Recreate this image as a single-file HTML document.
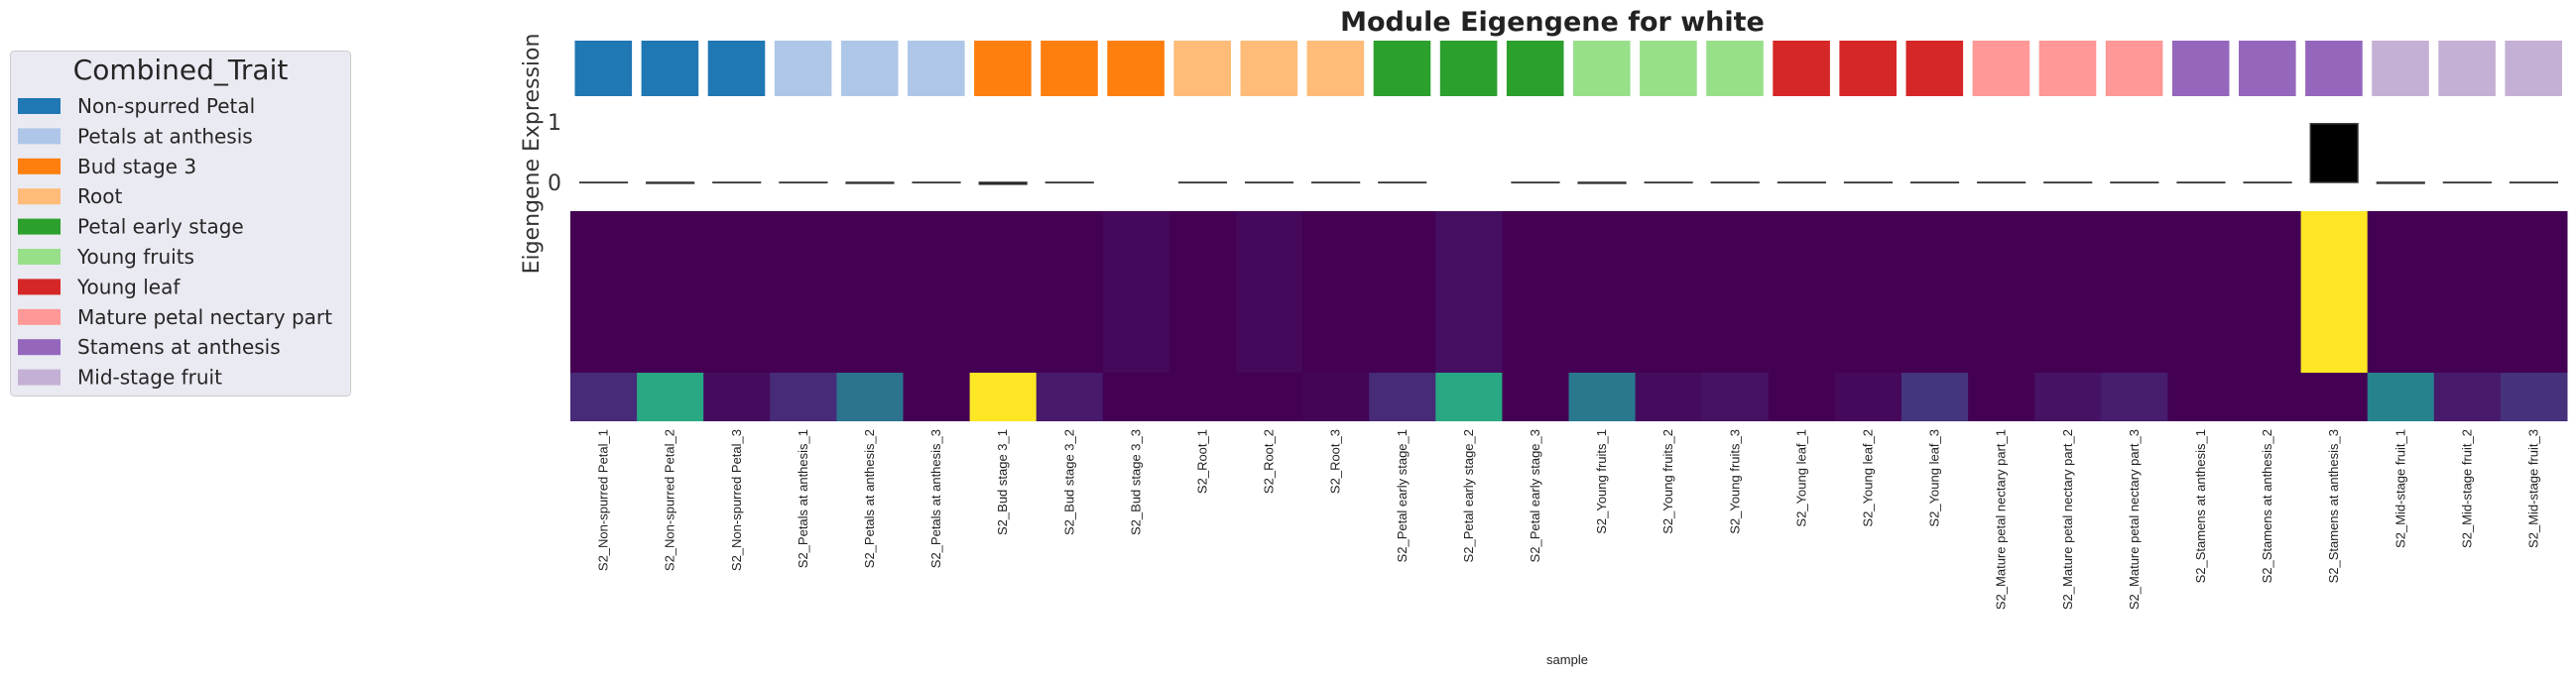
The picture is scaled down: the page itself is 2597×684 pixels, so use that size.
<!DOCTYPE html>
<html><head><meta charset="utf-8"><style>
body{margin:0;background:#fff;}
svg{display:block;font-family:"Liberation Sans","DejaVu Sans",sans-serif;}
</style></head><body>
<svg id="chart" width="2597" height="684" viewBox="0 0 2597 684">
<g id="legend"></g>
<text x="1565" y="31" font-size="27" font-weight="bold" text-anchor="middle" fill="#222" font-family="DejaVu Sans, sans-serif">Module Eigengene for white</text>
<text transform="translate(543,155) rotate(-90)" font-size="22" text-anchor="middle" fill="#333" font-family="DejaVu Sans, sans-serif">Eigengene Expression</text>
<g id="strip"></g>
<g id="bars"></g>
<g id="heat"></g>
<g id="xlabels"></g>
<text x="1580" y="670" font-size="13" text-anchor="middle" fill="#222">sample</text>
</svg>
<script>
const traits = ["Non-spurred Petal","Petals at anthesis","Bud stage 3","Root","Petal early stage","Young fruits","Young leaf","Mature petal nectary part","Stamens at anthesis","Mid-stage fruit"];
const traitColors = ["#1f77b4","#aec7e8","#ff7f0e","#ffbb78","#2ca02c","#98df8a","#d62728","#ff9896","#9467bd","#c5b0d5"];
const samples = [];
traits.forEach(t=>{for(let r=1;r<=3;r++)samples.push("S2_"+t+"_"+r);});
const eigenValues = [-0.005,-0.015,-0.005,-0.005,-0.015,-0.005,-0.03,-0.005,null,-0.005,-0.005,-0.005,-0.005,null,-0.005,-0.015,-0.005,-0.005,-0.005,-0.005,-0.005,-0.005,-0.005,-0.005,-0.005,-0.005,0.97,-0.015,-0.005,-0.005];
const yTicks = [0,1];
const topBand = [0,0,0,0,0,0,0,0,0.02,0,0.02,0,0,0.04,0,0,0,0,0,0,0,0,0,0,0,0,1,0,0,0];
const bottomBand = [0.12,0.6,0.03,0.12,0.38,0,1,0.07,0,0,0,0.01,0.12,0.6,0,0.4,0.03,0.05,0,0.02,0.15,0,0.05,0.08,0,0,0,0.45,0.07,0.14];

const NS="http://www.w3.org/2000/svg";
function mk(tag,attrs,parent){const e=document.createElementNS(NS,tag);for(const k in attrs)e.setAttribute(k,attrs[k]);parent.appendChild(e);return e;}
const x0=575,x1=2588,colW=(x1-x0)/samples.length;
const xPos=i=>x0+i*colW;
const yZero=184,yUnit=61;
const yScale=v=>yZero-v*yUnit;
const vir=[[68,1,84],[72,40,120],[62,74,137],[49,104,142],[38,130,142],[31,158,137],[53,183,121],[109,205,89],[180,222,44],[253,231,37]];
function viridis(t){t=Math.max(0,Math.min(1,t));const s=t*(vir.length-1),i=Math.min(vir.length-2,Math.floor(s)),f=s-i;const c=vir[i].map((a,k)=>Math.round(a+(vir[i+1][k]-a)*f));return `rgb(${c[0]},${c[1]},${c[2]})`;}

const lg=document.getElementById('legend');
const box=mk('rect',{x:10.5,y:51.5,width:343,height:348,rx:4,fill:"#eaeaf2",stroke:"#cccccc"},lg);


const lt=mk('text',{x:182,y:80,"font-size":28,"text-anchor":"middle",fill:"#262626","font-family":"DejaVu Sans, sans-serif"},lg);
lt.textContent="Combined_Trait";


traits.forEach((t,i)=>{
  const y=107+i*30.4;
  const g=mk('g',{},lg);
  
  
  mk('rect',{x:18,y:y-8,width:43,height:16,fill:traitColors[i]},g);
  const tx=mk('text',{x:78,y:y+7,"font-size":20,fill:"#262626","font-family":"DejaVu Sans, sans-serif"},g);
  tx.textContent=t;
});

const st=document.getElementById('strip'),br=document.getElementById('bars'),hm=document.getElementById('heat'),xl=document.getElementById('xlabels');
mk('text',{x:566,y:131,"font-size":22,"text-anchor":"end",fill:"#333","font-family":"DejaVu Sans, sans-serif"},br).textContent=yTicks[1];
mk('text',{x:566,y:192,"font-size":22,"text-anchor":"end",fill:"#333","font-family":"DejaVu Sans, sans-serif"},br).textContent=yTicks[0];
samples.forEach((s,i)=>{
  const x=xPos(i),ti=Math.floor(i/3);
  const r=mk('rect',{x:x+4.5,y:41,width:colW-9.5,height:56,fill:traitColors[ti]},st);
  
  
  const v=eigenValues[i];
  if(v!==null){
    const y=Math.min(yScale(v),yZero),h=Math.abs(yScale(v)-yZero);
    const b=mk('rect',{x:x+colW*0.1+3,y:y,width:colW*0.8-6,height:h,fill:"#000",stroke:"#333","stroke-width":1.5},br);
    
    
  }
  const c1=mk('rect',{x:x,y:213,width:colW+0.5,height:163,fill:viridis(topBand[i])},hm);
  
  
  const c2=mk('rect',{x:x,y:376,width:colW+0.5,height:49,fill:viridis(bottomBand[i])},hm);
  
  
  const cx=x+colW/2;
  const l=mk('text',{transform:`translate(${cx+4},433) rotate(-90)`,"font-size":13,"text-anchor":"end",fill:"#222"},xl);
  l.textContent=s;
  
  
});
</script>
</body></html>
